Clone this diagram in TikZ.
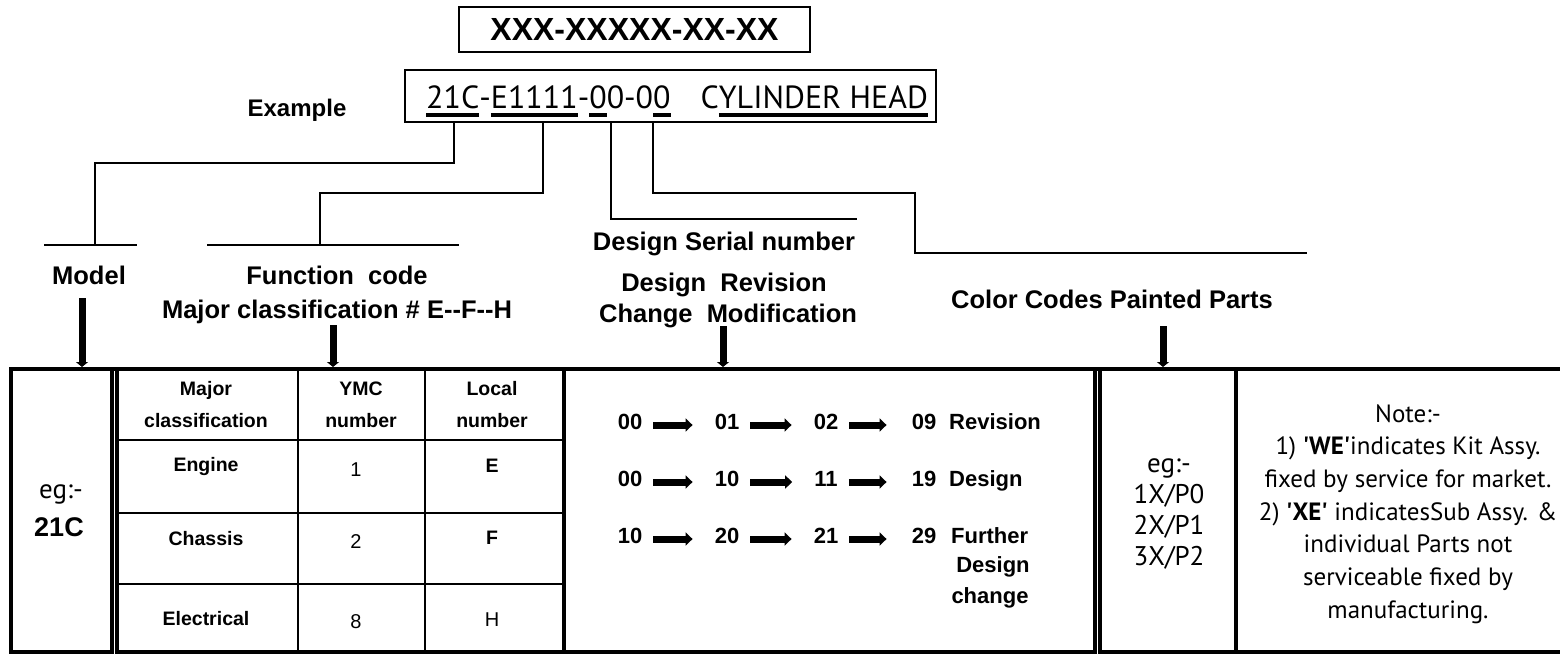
\documentclass[tikz,border=0pt]{standalone}
\usepackage{fontspec}
\setmainfont{Liberation Sans}
\newfontfamily\myr{PT Sans}
\usepackage{tikz}
\usetikzlibrary{arrows.meta,positioning}

% thick underline for the part number
\newcommand{\undl}[1]{\setbox0\hbox{#1}\rlap{\rule[-9pt]{\wd0}{4pt}}\box0\relax}

\begin{document}
\begin{tikzpicture}[x=1pt,y=-1pt,
    lnk/.style={line width=1.5pt},
    frame/.style={line width=4pt},
    grid/.style={line width=2pt},
    lbl/.style={font=\bfseries\fontsize{25.5}{30}\selectfont,inner sep=0pt,text height=18pt,text depth=0pt},
    cell/.style={font=\bfseries\fontsize{19.5}{32}\selectfont,align=center,inner sep=0pt},
    num/.style={font=\fontsize{20}{24}\selectfont,inner sep=0pt,text height=14pt,text depth=0pt},
    rev/.style={font=\bfseries\fontsize{22}{29}\selectfont,inner sep=0pt,text height=16pt,text depth=0pt},
    hand/.style={font=\myr\fontsize{27}{31}\selectfont,align=center,inner sep=0pt},
    darr/.style={line width=7pt,-{Triangle[width=12pt,length=5pt]}},
    rarr/.style={line width=7pt,-{Triangle[width=13pt,length=7pt]}}]
  \useasboundingbox (0,0) rectangle (1560,654);

  % part number boxes
  \node[draw,lnk,minimum width=351pt,minimum height=45pt,inner sep=0pt,
        font=\bfseries\fontsize{32}{36}\selectfont] (fmt) at (634.5,29.5) {XXX-XXXXX-XX-XX};
  \node[draw,lnk,minimum width=531pt,minimum height=52pt,inner sep=0pt] (ex) at (670.5,96) {};
  \node[font=\myr\fontsize{32}{36}\selectfont,anchor=base west,inner sep=0pt] (pn) at (426,108)
    {\undl{21C}-\undl{E1111}-\undl{0}0-0\undl{0}\hspace{30pt}C\undl{YLINDER HEAD}};
  \node[lbl,font=\bfseries\fontsize{24}{28}\selectfont] (exm) at (297,107) {Example};

  \coordinate (m0) at (454,122);
  \coordinate (f0) at (543,122);
  \coordinate (s0) at (611,122);
  \coordinate (c0) at (653,122);
  \coordinate (ttop) at (0,367);

  % leaders
  \draw[lnk] (m0) |- (95,163) -- (95,245);
  \draw[lnk] (44,245) -- (137,245);
  \draw[lnk] (f0) |- (320,193) -- (320,245);
  \draw[lnk] (207,245) -- (459,245);
  \draw[lnk] (s0) |- (857,219);
  \draw[lnk] (c0) |- (915,193) |- (1307,253);

  % labels
  \node[lbl] (model) at (89,275) {Model};
  \node[lbl] (func) at (337,275) {Function\ \ code};
  \node[lbl] (major) at (337,309) {Major classification \# E-{}-F-{}-H};
  \node[lbl] (serial) at (724,241) {Design Serial number};
  \node[lbl] (revd) at (724,282) {Design\ \ Revision};
  \node[lbl] (chg) at (728,313) {Change\ \ Modification};
  \node[lbl] (color) at (1112,299) {Color Codes Painted Parts};

  \coordinate (am) at (82,298);
  \coordinate (af) at (333,325);
  \coordinate (ad) at (723,326);
  \coordinate (ac) at (1163,326);
  \foreach \p in {am,af,ad,ac}
    \draw[darr] (\p) -- (\p |- ttop);

  % table
  \draw[frame] (10,369) -- (1560,369);
  \draw[frame] (11,369) rectangle (112,652);
  \draw[frame] (117,369) rectangle (564,652);
  \draw[frame] (564,369) rectangle (1095,652);
  \draw[frame] (1100,369) rectangle (1236,652);
  \draw[frame] (1236,652) -- (1560,652);
  \draw[grid] (298,369) -- (298,652) (425,369) -- (425,652)
    (117,440) -- (564,440) (117,513) -- (564,513) (117,584) -- (564,584);

  \node[hand] (eg) at (61,494) {eg:-};
  \node[lbl,font=\bfseries\fontsize{27}{30}\selectfont] (mdl) at (59,527) {21C};

  \node[cell] (h1) at (206,405) {Major\\classification};
  \node[cell] (h2) at (361,405) {YMC\\number};
  \node[cell] (h3) at (492,405) {Local\\number};
  \node[cell] (r1) at (206,466) {Engine};
  \node[num] (y1) at (356,469) {1};
  \node[cell] (l1) at (492,466) {E};
  \node[cell] (r2) at (206,539) {Chassis};
  \node[num] (y2) at (356,541) {2};
  \node[cell] (l2) at (492,538) {F};
  \node[cell] (r3) at (206,619) {Electrical};
  \node[num] (y3) at (356,621) {8};
  \node[num] (l3) at (492,619) {H};

  % revision chains
  \foreach \a/\b/\c/\d/\y in {00/01/02/09/421,00/10/11/19/478,10/20/21/29/535}{
    \node[rev] (a\y) at (630,\y) {\a};
    \node[rev] (b\y) at (727,\y) {\b};
    \node[rev] (c\y) at (826,\y) {\c};
    \node[rev] (d\y) at (924,\y) {\d};
    \draw[rarr] ([xshift=11pt,yshift=-4pt]a\y.east) -- ([xshift=-22pt,yshift=-4pt]b\y.west);
    \draw[rarr] ([xshift=11pt,yshift=-4pt]b\y.east) -- ([xshift=-22pt,yshift=-4pt]c\y.west);
    \draw[rarr] ([xshift=11pt,yshift=-4pt]c\y.east) -- ([xshift=-25pt,yshift=-4pt]d\y.west);
  }
  \node[rev,anchor=west] (w1) at (949,421) {Revision};
  \node[rev,anchor=west] (w2) at (949,478) {Design};
  \node[rev,anchor=west] (w3) at (951,535) {Further};
  \node[rev] (w4) at (993,564) {Design};
  \node[rev] (w5) at (990,595) {change};

  \node[hand] (cc) at (1169,514) {eg:-\\1X/P0\\2X/P1\\3X/P2};
  \node[hand,font=\myr\fontsize{25}{32.7}\selectfont] (note) at (1408,514)
    {Note:-\\1) \textbf{\textquotesingle WE\textquotesingle}indicates Kit Assy.\\
     fixed by service for market.\\
     2) \textbf{\textquotesingle XE\textquotesingle} indicatesSub Assy. \&\\
     individual Parts not\\serviceable fixed by\\manufacturing.};
\end{tikzpicture}
\end{document}
